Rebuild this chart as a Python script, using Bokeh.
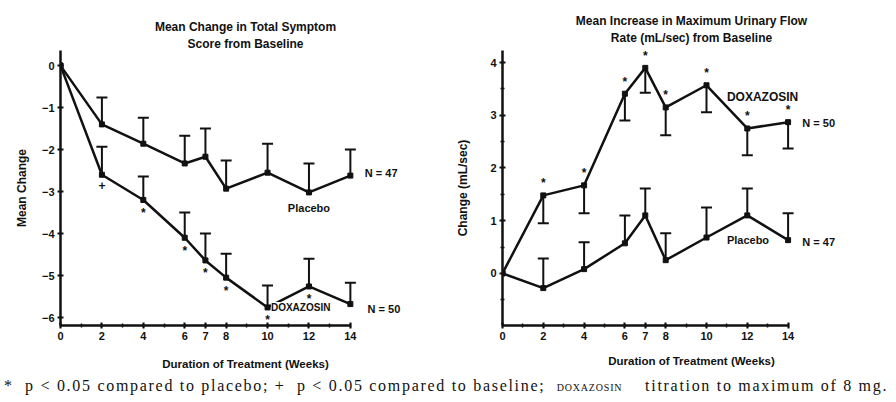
from bokeh.plotting import figure
from bokeh.models import Label, Whisker, ColumnDataSource, FixedTicker, TeeHead, Div, Range1d, LinearAxis
from bokeh.layouts import row, column
from bokeh.embed import file_html
from bokeh.resources import INLINE
from bokeh.core.properties import value

# ---------------- data ----------------
weeks = [0, 2, 4, 6, 7, 8, 10, 12, 14]
week_ticks = [0, 2, 4, 6, 7, 8, 10, 12, 14]
week_minor = list(range(0, 15))

# Left: Mean change in total symptom score
sym_ticks = [0, -1, -2, -3, -4, -5, -6]
sym_placebo = [0, -1.40, -1.86, -2.33, -2.17, -2.93, -2.55, -3.02, -2.62]
sym_placebo_err = [0, 0.64, 0.62, 0.66, 0.67, 0.67, 0.69, 0.69, 0.62]
sym_doxa = [0, -2.60, -3.20, -4.10, -4.64, -5.05, -5.76, -5.26, -5.68]
sym_doxa_err = [0, 0.67, 0.56, 0.60, 0.64, 0.57, 0.52, 0.66, 0.51]
sym_star_weeks = [4, 6, 7, 8, 10, 12]
sym_plus_weeks = [2]

# Right: Mean increase in maximum urinary flow rate
flow_ticks = [0, 1, 2, 3, 4]
flow_minor = [-0.5, 0.5, 1.5, 2.5, 3.5]
flow_doxa = [0, 1.48, 1.67, 3.41, 3.90, 3.15, 3.57, 2.75, 2.87]
flow_doxa_err = [0, 0.53, 0.53, 0.51, 0.47, 0.53, 0.51, 0.51, 0.50]
flow_placebo = [0, -0.28, 0.08, 0.57, 1.10, 0.25, 0.68, 1.10, 0.63]
flow_placebo_err = [0, 0.56, 0.51, 0.53, 0.51, 0.51, 0.57, 0.51, 0.51]
flow_star_weeks = [2, 4, 6, 7, 8, 10, 12, 14]

FONT = "Liberation Sans"
SERIF = "Liberation Serif"
INK = "#111111"


def base_fig(width, height, bl, br, bt, bb, xr, yr, yticks, yminor,
             xlabel, ylabel, xstand, ystand, title, title_bounds, title_stand):
    p = figure(width=width, height=height, output_backend="svg", toolbar_location=None,
               x_range=Range1d(*xr), y_range=Range1d(*yr),
               min_border_left=bl, min_border_right=br, min_border_top=bt, min_border_bottom=bb)
    p.outline_line_color = None
    p.xgrid.visible = False
    p.ygrid.visible = False
    p.background_fill_color = "white"
    p.border_fill_color = "white"
    p.xaxis.ticker = FixedTicker(ticks=week_ticks, minor_ticks=week_minor)
    p.yaxis.ticker = FixedTicker(ticks=yticks, minor_ticks=yminor)
    p.xaxis.bounds = (0, 14)
    for ax in (p.xaxis, p.yaxis):
        ax.axis_line_width = 2.5
        ax.axis_line_color = INK
        ax.major_tick_line_color = INK
        ax.major_tick_line_width = 2
        ax.major_tick_in = 3
        ax.major_tick_out = 3
        ax.minor_tick_line_color = INK
        ax.minor_tick_line_width = 1.5
        ax.minor_tick_in = 2
        ax.minor_tick_out = 2
        ax.major_label_text_font = FONT
        ax.major_label_text_font_style = "bold"
        ax.major_label_text_font_size = "11px"
        ax.major_label_text_color = INK
        ax.major_label_standoff = 3
        ax.axis_label_text_font = FONT
        ax.axis_label_text_font_style = "bold"
        ax.axis_label_text_color = INK
    p.xaxis.axis_label = xlabel
    p.xaxis.axis_label_text_font_size = "11.5px"
    p.xaxis.axis_label_standoff = xstand
    p.yaxis.axis_label = ylabel
    p.yaxis.axis_label_text_font_size = "12px"
    p.yaxis.axis_label_standoff = ystand
    # chart title, centred over its own span
    t = LinearAxis(bounds=title_bounds, ticker=FixedTicker(ticks=[]), axis_line_color=None,
                   major_tick_line_color=None, minor_tick_line_color=None,
                   major_tick_in=0, major_tick_out=0, minor_tick_in=0, minor_tick_out=0,
                   major_label_standoff=0, major_label_text_font_size="0px",
                   axis_label=title, axis_label_text_font=FONT, axis_label_text_font_style="bold",
                   axis_label_text_font_size="12px", axis_label_text_color=INK,
                   axis_label_standoff=title_stand)
    p.add_layout(t, "above")
    return p


def add_series(p, y, err, direction):
    p.line(weeks, y, line_width=2.5, line_color=INK)
    p.scatter(weeks, y, marker="square", size=5, color=INK)
    xs = [w for w, e in zip(weeks, err) if e > 0]
    ys = [v for v, e in zip(y, err) if e > 0]
    es = [e for e in err if e > 0]
    head = TeeHead(size=11, line_width=2, line_color=INK)
    if direction > 0:
        src = ColumnDataSource(dict(x=xs, lower=ys, upper=[v + e for v, e in zip(ys, es)]))
        w = Whisker(base="x", lower="lower", upper="upper", source=src, line_width=2,
                    line_color=INK, upper_head=head, lower_head=None)
    else:
        src = ColumnDataSource(dict(x=xs, lower=[v - e for v, e in zip(ys, es)], upper=ys))
        w = Whisker(base="x", lower="lower", upper="upper", source=src, line_width=2,
                    line_color=INK, lower_head=head, upper_head=None)
    p.add_layout(w)


def marks(p, sel_weeks, series, symbol, offset):
    xs = list(sel_weeks)
    ys = [series[weeks.index(w)] for w in sel_weeks]
    p.text(x=xs, y=ys, text=[symbol] * len(xs), y_offset=offset, text_align="center",
           text_baseline="middle", text_font=value(FONT), text_font_style="bold",
           text_font_size="12px", text_color=INK)


def lab(p, x, y, text, size="11px", align="left", bg=None):
    l = Label(x=x, y=y, text=text, text_font=FONT, text_font_size=size,
              text_font_style="bold", text_align=align, text_baseline="middle", text_color=INK)
    if bg:
        l.background_fill_color = bg
    p.add_layout(l)


# ---------------- left panel ----------------
p1 = base_fig(440, 380, 60, 10, 50, 55, (0, 17.87), (-6.19, 0.36), sym_ticks, [],
              "Duration of Treatment (Weeks)", "Mean Change", 15, 10,
              "Mean Change in Total Symptom\nScore from Baseline", (0, 16.4), 0)
add_series(p1, sym_placebo, sym_placebo_err, +1)
add_series(p1, sym_doxa, sym_doxa_err, +1)
marks(p1, sym_star_weeks, sym_doxa, "*", 13)
marks(p1, sym_plus_weeks, sym_doxa, "+", 11)
lab(p1, 14.7, -2.55, "N = 47")
lab(p1, 12.0, -3.4, "Placebo", "11px", "center")
lab(p1, 11.6, -5.76, "DOXAZOSIN", "10px", "center", bg="white")
lab(p1, 14.83, -5.79, "N = 50")

# ---------------- right panel ----------------
p2 = base_fig(456, 380, 62, 16, 50, 55, (0, 18.53), (-0.99, 4.23), flow_ticks, flow_minor,
              "Duration of Treatment (Weeks)", "Change (mL/sec)", 12, 17,
              "Mean Increase in Maximum Urinary Flow\nRate (mL/sec) from Baseline", (0, 15.4), 6)
add_series(p2, flow_doxa, flow_doxa_err, -1)
add_series(p2, flow_placebo, flow_placebo_err, +1)
marks(p2, flow_star_weeks, flow_doxa, "*", -12)
lab(p2, 11.0, 3.34, "DOXAZOSIN", "12px")
lab(p2, 14.7, 2.85, "N = 50")
lab(p2, 11.0, 0.63, "Placebo")
lab(p2, 14.7, 0.59, "N = 47")

footer = Div(
    text=("* &nbsp;p &lt; 0.05 compared to placebo; + &nbsp;p &lt; 0.05 compared to baseline; "
          "&nbsp;<span style='font-size:10px;letter-spacing:0.8px'>DOXAZOSIN</span>"
          "&nbsp;&nbsp;&nbsp; titration to maximum of 8 mg."),
    width=896, height=22, margin=(0, 0, 0, 0),
    styles={"font-family": SERIF, "font-size": "16px", "line-height": "12px",
            "white-space": "nowrap", "color": INK, "letter-spacing": "1.7px", "padding-left": "4px"})

layout = column(row(p1, p2), footer)
open("out.html", "w").write(file_html(layout, INLINE))
